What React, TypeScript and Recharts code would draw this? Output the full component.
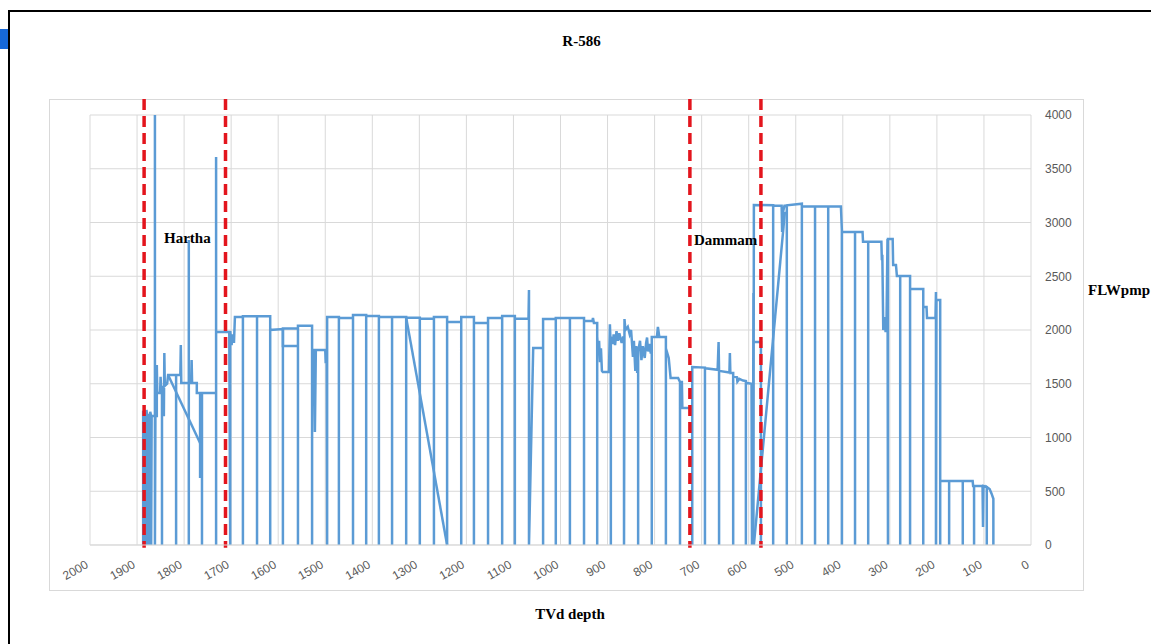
import { LineChart, Line, XAxis, YAxis, CartesianGrid, ReferenceLine } from "recharts";

type Pt = [number, number];

// [TVd depth, FLWpmp] in drilling-log order, read left to right on the reversed depth axis.
// A point pair at one depth going to 0 is a pumps-off connection.
const harthaTrace: Pt[] = [
  [1887, 0], [1887, 1250], [1885, 1180], [1885, 0], [1884, 1230], [1882, 1150], [1882, 0],
  [1880, 1256], [1878, 1190], [1878, 0], [1876, 1220], [1874, 1160], [1874, 0], [1872, 1240],
  [1870, 1200], [1870, 0], [1869, 1200], [1862, 1200], [1862, 4000], [1862, 0], [1861, 1200],
  [1858, 1200], [1858, 1674], [1857, 1414], [1851, 1414], [1850, 1565], [1849, 1470], [1847, 1470],
  [1847, 0], [1847, 1209], [1843, 1209], [1842, 1786], [1841, 1480], [1836, 1500], [1834, 1581],
  [1817, 1581], [1817, 0], [1817, 1581], [1808, 1581], [1807, 1860], [1806, 1506], [1790, 1506],
  [1790, 2837], [1790, 0], [1790, 1506], [1785, 1506], [1784, 1720], [1783, 1506], [1773, 1506],
  [1773, 1414], [1766, 1414], [1766, 623], [1764, 1414], [1762, 1414], [1762, 0], [1762, 1414],
  [1732, 1414], [1732, 3609], [1732, 0], [1732, 1981], [1704, 1981], [1702, 0], [1702, 1990],
  [1699, 1860], [1697, 1960], [1694, 1880], [1692, 2121],
];

const upperTrace: Pt[] = [
  [1692, 2121], [1675, 2121], [1675, 0], [1675, 2128], [1645, 2128], [1645, 0], [1645, 2128],
  [1617, 2128], [1617, 0], [1617, 2000], [1590, 2009], [1590, 0], [1590, 2015], [1558, 2015],
  [1558, 0], [1558, 2040], [1528, 2040], [1528, 0], [1528, 1814], [1524, 1814], [1522, 1051],
  [1520, 1814], [1500, 1814], [1499, 1690], [1497, 1800], [1496, 0], [1496, 2121], [1471, 2121],
  [1471, 0], [1471, 2112], [1441, 2112], [1441, 0], [1441, 2140], [1413, 2140], [1413, 0],
  [1413, 2130], [1386, 2130], [1386, 0], [1386, 2121], [1358, 2121], [1358, 0], [1358, 2121],
  [1328, 2121], [1328, 0], [1328, 2115], [1299, 2115], [1299, 0], [1299, 2104], [1269, 2104],
  [1269, 0], [1269, 2121], [1241, 2121], [1241, 0], [1241, 2074], [1211, 2074], [1211, 0],
  [1211, 2121], [1184, 2121], [1184, 0], [1184, 2065], [1154, 2065], [1154, 0], [1154, 2112],
  [1124, 2112], [1124, 0], [1124, 2130], [1097, 2130], [1097, 0], [1097, 2104], [1068, 2104],
  [1067, 2372], [1067, 0], [1058, 1833], [1037, 1833], [1037, 0], [1037, 2102],
];

const middleTrace: Pt[] = [
  [1037, 2102], [1010, 2102], [1010, 0], [1010, 2112], [980, 2112], [980, 0], [980, 2112],
  [950, 2112], [950, 0], [950, 2084], [932, 2084], [931, 2112], [929, 2065], [922, 2065],
  [922, 0], [922, 1940], [920, 1780], [918, 1900], [916, 1700], [914, 1830], [912, 1620],
  [910, 1609], [897, 1609], [895, 2053], [893, 1800], [893, 0], [893, 1935], [889, 1870],
  [887, 1960], [884, 1860], [881, 1990], [878, 1900], [875, 1970], [870, 1880], [867, 1930],
  [865, 1930], [865, 0], [864, 2102], [862, 2000], [857, 2030], [853, 1960], [850, 2000],
  [846, 1750], [844, 1900], [841, 1620], [839, 1850], [837, 1600], [835, 1700], [835, 0],
  [835, 1800], [831, 1900], [828, 1720], [825, 1850], [821, 1740], [818, 1880], [816, 1930],
  [814, 1800], [811, 1870], [808, 1780], [806, 1850], [806, 0], [806, 1935], [795, 1935],
  [793, 2028], [790, 1935], [776, 1935], [776, 0], [776, 1830], [770, 1740], [766, 1553],
  [750, 1553], [746, 1516], [746, 0], [746, 1516], [742, 1516], [741, 1274], [720, 1274],
  [720, 0], [720, 1656],
];

const dammamTrace: Pt[] = [
  [720, 1656], [693, 1650], [693, 0], [693, 1645], [666, 1630], [664, 1888], [663, 1628],
  [663, 0], [663, 1620], [641, 1605], [640, 1786], [639, 1600], [633, 1600], [633, 0],
  [633, 1570], [625, 1560], [624, 1520], [620, 1545], [612, 1530], [606, 1525], [606, 0],
  [606, 1510], [594, 1500], [593, 0], [592, 1480], [591, 0], [590, 2344], [590, 0], [589, 3163],
];

const shallowTrace: Pt[] = [
  [589, 3163], [548, 3160], [548, 0], [548, 3155], [530, 3155], [529, 2912], [527, 3100],
  [524, 3155], [519, 3155], [519, 0], [519, 3160], [487, 3175], [487, 0], [487, 3150],
  [459, 3150], [459, 0], [459, 3150], [431, 3150], [431, 0], [431, 3150], [404, 3150],
  [402, 2930], [402, 0], [402, 2912], [374, 2912], [374, 0], [374, 2912], [358, 2912],
  [357, 2820], [346, 2820], [346, 0], [346, 2820], [318, 2820], [317, 2650], [316, 2700],
  [314, 2000], [311, 2120], [309, 1980], [307, 2100], [305, 2846], [304, 0], [304, 2846],
  [294, 2846], [293, 2605], [287, 2605], [285, 2502], [278, 2502], [278, 0], [278, 2502],
  [257, 2502], [257, 0], [257, 2381], [229, 2381], [229, 0], [229, 2214], [222, 2214],
  [221, 2111], [203, 2111], [202, 2353], [202, 0], [201, 2280], [193, 2280], [193, 0],
  [193, 595], [174, 595], [174, 0], [174, 595], [145, 595], [145, 0], [145, 595], [124, 595],
  [123, 549], [121, 549], [121, 0], [121, 549], [103, 549], [102, 167], [101, 549], [94, 540],
  [94, 0], [94, 540], [88, 520], [84, 480], [80, 430], [80, 0],
];

// segments that step back along the depth axis
const harthaSlope: Pt[] = [[1834, 1581], [1766, 949]];
const harthaStep: Pt[] = [[1590, 2009], [1590, 1851], [1558, 1851]];
const midSlope: Pt[] = [[1328, 2115], [1241, 0]];
const dammamStep: Pt[] = [[589, 1888], [574, 1888], [574, 0]];
const dammamSlope: Pt[] = [[589, 0], [523, 3100]];

const formationTops = [1885, 1712, 725, 574];
const depthTicks = [0, 100, 200, 300, 400, 500, 600, 700, 800, 900, 1000, 1100, 1200, 1300, 1400, 1500, 1600, 1700, 1800, 1900, 2000];
const flowTicks = [0, 500, 1000, 1500, 2000, 2500, 3000, 3500, 4000];

const toRows = (pts: Pt[]) => pts.map(([depth, flow]) => ({ depth, flow }));
const mainRows = toRows([...harthaTrace, ...upperTrace, ...middleTrace, ...dammamTrace, ...shallowTrace]);
const extraRows = [harthaSlope, harthaStep, midSlope, dammamStep, dammamSlope].map(toRows);

const BLUE = "#5b9bd5";
const RED = "#e3151d";
const GRID = "#d9d9d9";
const tickFont = "'Liberation Sans', Arial, sans-serif";
const serif = "'Liberation Serif', 'Times New Roman', serif";

function DepthTick({ x, y, payload }: any) {
  const ax = x - 1;
  const ay = y + 22;
  return (
    <text
      x={ax}
      y={ay}
      textAnchor="end"
      fontSize={12}
      fontFamily={tickFont}
      fill="#595959"
      transform={`rotate(-30, ${ax}, ${ay})`}
    >
      {payload.value}
    </text>
  );
}

const label = (left: number, top: number): React.CSSProperties => ({
  position: "absolute",
  left,
  top,
  fontFamily: serif,
  fontWeight: 700,
  fontSize: 15,
  lineHeight: "15px",
  color: "#000",
  whiteSpace: "nowrap",
});

export default function App() {
  return (
    <div style={{ position: "absolute", left: 0, top: 0, width: 1151, height: 644, overflow: "hidden", background: "#fff" }}>
      <div style={{ position: "absolute", left: 0, top: 29, width: 8, height: 20, background: "#1668d8" }} />
      <div style={{ position: "absolute", left: 8, top: 10, width: 1160, height: 650, border: "2px solid #000" }} />
      <div style={{ position: "absolute", left: 49, top: 99, width: 1033, height: 490, border: `1px solid ${GRID}` }} />

      <div style={{ position: "absolute", left: 0, top: 0 }}>
        <LineChart width={1151} height={644} margin={{ top: 115, right: 60, bottom: 59, left: 90 }}>
          <CartesianGrid stroke={GRID} strokeWidth={1} />
          <XAxis
            type="number"
            dataKey="depth"
            domain={[0, 2000]}
            reversed
            ticks={depthTicks}
            interval={0}
            height={40}
            tickSize={0}
            tickMargin={0}
            tickLine={false}
            axisLine={{ stroke: GRID }}
            tick={(props: any) => <DepthTick {...props} />}
          />
          <YAxis
            orientation="right"
            type="number"
            domain={[0, 4000]}
            ticks={flowTicks}
            interval={0}
            width={60}
            tickSize={0}
            tickMargin={14}
            tickLine={false}
            axisLine={false}
            tick={{ fill: "#595959", fontSize: 12, fontFamily: tickFont, textAnchor: "start" }}
          />
          <Line
            data={mainRows}
            dataKey="flow"
            type="linear"
            stroke={BLUE}
            strokeWidth={2.5}
            dot={false}
            isAnimationActive={false}
          />
          {extraRows.map((rows, i) => (
            <Line
              key={i}
              data={rows}
              dataKey="flow"
              type="linear"
              stroke={BLUE}
              strokeWidth={2.5}
              dot={false}
              isAnimationActive={false}
            />
          ))}
          {formationTops.map((d) => (
            <ReferenceLine
              key={d}
              segment={[{ x: d, y: 4150 }, { x: d, y: -25 }]}
              ifOverflow="visible"
              stroke={RED}
              strokeWidth={3.5}
              strokeDasharray="11 6"
            />
          ))}
        </LineChart>
      </div>

      <div style={{ ...label(0, 34), width: 1151, textAlign: "center", left: 6 }}>R-586</div>
      <div style={label(164, 231)}>Hartha</div>
      <div style={label(694, 233)}>Dammam</div>
      <div style={label(1088, 283)}>FLWpmp</div>
      <div style={{ ...label(0, 607), width: 1140, textAlign: "center" }}>TVd depth</div>
    </div>
  );
}
